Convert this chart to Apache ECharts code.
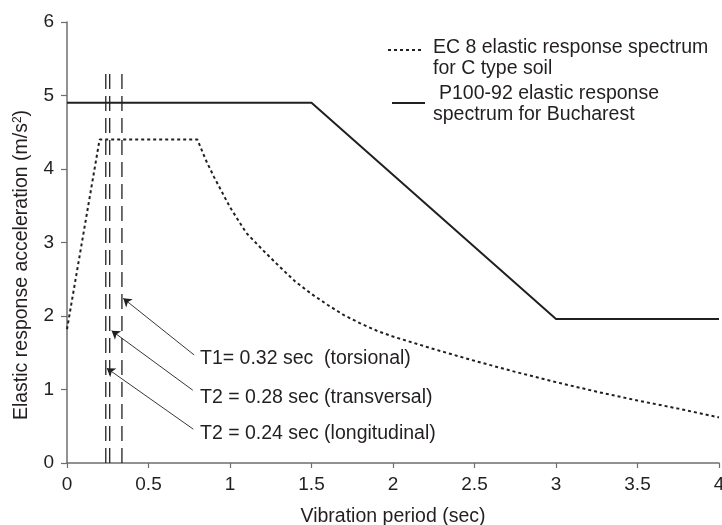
<!DOCTYPE html>
<html>
<head>
<meta charset="utf-8">
<script src="https://cdn.jsdelivr.net/npm/echarts@6/dist/echarts.min.js"></script>
<style>
  html, body { margin: 0; padding: 0; background: #fff; }
  #chart { width: 722px; height: 525px; }
</style>
</head>
<body>
<div id="chart"></div>
<script>
// EC 8 spectrum, C type soil
var ec8Period = [0, 0.2, 0.8, 0.85, 0.9, 1.0, 1.1, 1.2, 1.3, 1.4, 1.5, 1.6, 1.7, 1.8, 1.9, 2.0, 2.25, 2.5, 2.75, 3.0, 3.25, 3.5, 3.75, 4.0];
var ec8Accel  = [1.82, 4.4, 4.4, 4.13, 3.9, 3.48, 3.13, 2.9, 2.68, 2.47, 2.3, 2.15, 2.01, 1.9, 1.8, 1.72, 1.55, 1.39, 1.24, 1.1, 0.97, 0.85, 0.74, 0.62];

// P100-92 spectrum, Bucharest
var p100Period = [0, 1.5, 3, 4];
var p100Accel  = [4.9, 4.9, 1.96, 1.96];

// vibration modes (vertical dashed lines)
var modePeriod = [0.238, 0.262, 0.337];
var modeTop = 5.33;

// arrows: tail -> tip, in data units
var arrowTail = [[0.78, 1.47], [0.772, 0.99], [0.775, 0.46]];
var arrowTip  = [[0.345, 2.24], [0.274, 1.80], [0.244, 1.29]];
var modeLabels = ['T1= 0.32 sec  (torsional)', 'T2 = 0.28 sec (transversal)', 'T2 = 0.24 sec (longitudinal)'];

var xTicks = [0, 4, 0.5];
var yTicks = [0, 6, 1];

var ink = '#231f20';
var font = 'Liberation Sans, Arial, sans-serif';

var chart = echarts.init(document.getElementById('chart'));

function pairs(xs, ys) {
    var d = [];
    for (var i = 0; i < xs.length; i++) d.push([xs[i], ys[i]]);
    return d;
}

var series = [
    {
        name: 'EC8',
        type: 'line',
        data: pairs(ec8Period, ec8Accel),
        showSymbol: false,
        lineStyle: { color: ink, width: 2, type: [3, 3] }
    },
    {
        name: 'P100',
        type: 'line',
        data: pairs(p100Period, p100Accel),
        showSymbol: false,
        lineStyle: { color: ink, width: 2 }
    }
];

for (var i = 0; i < modePeriod.length; i++) {
    series.push({
        type: 'line',
        data: [[modePeriod[i], 0], [modePeriod[i], modeTop]],
        showSymbol: false,
        lineStyle: { color: ink, width: 1.3, type: [15, 7] }
    });
}

var arrows = [];
for (var j = 0; j < arrowTail.length; j++) {
    arrows.push([{ coord: arrowTail[j] }, { coord: arrowTip[j] }]);
}
series.push({
    type: 'line',
    data: [],
    markLine: {
        silent: true,
        symbol: ['none', 'arrow'],
        symbolSize: 8,
        label: { show: false },
        lineStyle: { color: ink, width: 0.9, type: 'solid' },
        data: arrows
    }
});

var labelY = [360, 399, 434.5];
var graphics = [];
for (var k = 0; k < modeLabels.length; k++) {
    graphics.push({
        type: 'text', left: 200, top: labelY[k] - 11,
        style: { text: modeLabels[k], font: '19.5px ' + font, fill: ink }
    });
}

// legend
graphics.push(
    { type: 'line', shape: { x1: 388, y1: 50, x2: 423, y2: 50 }, style: { stroke: ink, lineWidth: 2, lineDash: [3, 3] } },
    { type: 'text', left: 433, top: 38, style: { text: 'EC 8 elastic response spectrum', font: '19.5px ' + font, fill: ink } },
    { type: 'text', left: 433, top: 59, style: { text: 'for C type soil', font: '19.5px ' + font, fill: ink } },
    { type: 'line', shape: { x1: 392, y1: 103, x2: 425, y2: 103 }, style: { stroke: ink, lineWidth: 2 } },
    { type: 'text', left: 439, top: 84, style: { text: 'P100-92 elastic response', font: '19.5px ' + font, fill: ink } },
    { type: 'text', left: 433, top: 105, style: { text: 'spectrum for Bucharest', font: '19.5px ' + font, fill: ink } },
    {
        type: 'text', x: 22, y: 265, rotation: Math.PI / 2,
        style: {
            text: 'Elastic response acceleration (m/s{sup|2})',
            font: '19.5px ' + font, fill: ink,
            align: 'center', verticalAlign: 'middle',
            rich: { sup: { fontSize: 12, fontFamily: font, fill: ink, verticalAlign: 'top', padding: [0, 0, 9, 0] } }
        }
    }
);

var axisCommon = {
    type: 'value',
    splitLine: { show: false },
    axisLine: { show: true, lineStyle: { color: '#6d6e71', width: 1.5 } },
    axisTick: { show: true, length: 5, lineStyle: { color: '#6d6e71', width: 1.2 } },
    axisLabel: { color: ink, fontSize: 19, fontFamily: font }
};

var option = {
    animation: false,
    grid: { left: 67, right: 3, top: 22, bottom: 62, containLabel: false, outerBoundsMode: 'none' },
    xAxis: Object.assign({}, axisCommon, {
        min: xTicks[0], max: xTicks[1], interval: xTicks[2],
        name: 'Vibration period (sec)',
        nameLocation: 'middle',
        nameGap: 44,
        nameTextStyle: { color: ink, fontSize: 19.5, fontFamily: font },
        axisLabel: { color: ink, fontSize: 19, fontFamily: font, margin: 12 }
    }),
    yAxis: Object.assign({}, axisCommon, {
        min: yTicks[0], max: yTicks[1], interval: yTicks[2],
        axisTick: { show: true, length: 6, lineStyle: { color: '#6d6e71', width: 1.2 } },
        axisLabel: { color: ink, fontSize: 19, fontFamily: font, margin: 13 }
    }),
    series: series,
    graphic: graphics
};

chart.setOption(option);
</script>
</body>
</html>
